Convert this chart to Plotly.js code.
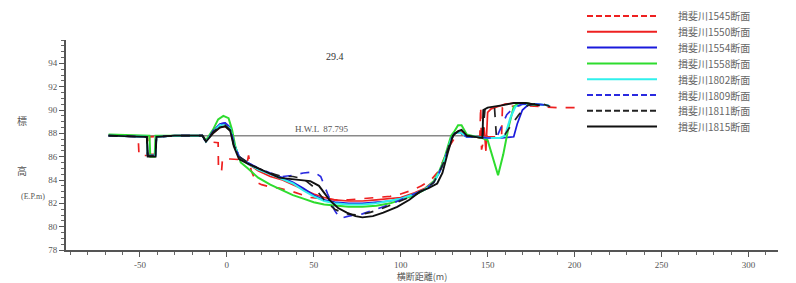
<!DOCTYPE html>
<html>
<head>
<meta charset="utf-8">
<script src="https://cdn.plot.ly/plotly-3.0.1.min.js"></script>
<style>html,body{margin:0;padding:0;background:#fff;}#chart{width:796px;height:283px;}</style>
</head>
<body>
<div id="chart"></div>
<script>
// ---- data ----
const seriesNames = ["揖斐川1545断面","揖斐川1550断面","揖斐川1554断面","揖斐川1558断面","揖斐川1802断面","揖斐川1809断面","揖斐川1811断面","揖斐川1815断面"];

const x1545 = [-68,-51,-50.5,-45,-44.5,-30,-14,-12,-5,-4.8,-3,-2.5,2,12,12.5,14,17,20,25,30,36,42,48,55,62,70,78,86,94,100,106,112,118,122,125,128,131,135,140,145.5,146,146.5,148,150,155,158,158.5,162,170,180,190,202];
const y1545 = [87.8,87.7,86.1,86.1,87.7,87.8,87.8,87.3,87.2,84.8,84.8,85.8,85.8,85.7,86.1,84.8,83.8,83.6,83.4,83.3,83.1,82.8,82.5,82.4,82.3,82.3,82.4,82.5,82.6,82.8,83.1,83.5,84.1,84.8,85.8,86.9,87.6,87.9,87.7,87.6,90.3,86.6,87.6,87.7,87.7,87.7,90.2,90.3,90.4,90.3,90.2,90.2];

const x1550 = [-68,-46,-45.5,-41,-40.5,-30,-14,-12,-8,-4,-1,2,4,7,12,18,25,32,38,44,50,56,62,70,78,86,94,100,108,114,119,122,125,127,129,131,134,138,143,147,148,149,150,152,156,160,165,172,180];
const y1550 = [87.8,87.7,86.2,86.2,87.7,87.8,87.8,87.4,88.0,88.5,88.6,88.3,87.0,86.0,85.4,84.8,84.3,84.0,83.6,83.2,82.8,82.5,82.3,82.2,82.2,82.3,82.4,82.5,82.9,83.3,83.9,84.6,85.6,86.5,87.4,88.0,88.2,87.8,87.7,87.6,88.5,86.5,89.8,90.1,90.3,90.5,90.6,90.6,90.4];

const x1554 = [-68,-46,-45.5,-41,-40.5,-30,-14,-12,-8,-4,-1,2,4,7,12,18,25,32,38,44,50,56,62,70,78,86,94,100,108,114,119,122,125,127,129,131,134,138,143,150,158,165,167,170,173,178,185];
const y1554 = [87.8,87.7,86.1,86.1,87.7,87.8,87.8,87.3,88.2,88.8,88.9,88.5,87.2,86.0,85.5,85.0,84.5,84.2,83.8,83.3,82.7,82.3,82.1,82.0,82.0,82.1,82.2,82.4,82.8,83.2,83.8,84.6,85.6,86.6,87.5,88.0,88.1,87.7,87.7,87.6,87.6,87.7,88.8,90.0,90.4,90.5,90.4];

const x1558 = [-68,-44.5,-44,-41.5,-41,-30,-14,-12,-8,-5,-2,1,3,5,8,12,18,25,32,38,44,50,56,62,70,78,86,94,100,108,114,119,122,125,127,129,131,133,135,138,143,147,150,153,156,159,162,165,168,172,178];
const y1558 = [87.9,87.8,86.0,86.0,87.8,87.8,87.8,87.4,88.3,89.2,89.5,89.3,88.3,86.8,85.5,85.0,84.2,83.6,83.1,82.7,82.4,82.1,81.9,81.8,81.7,81.7,81.8,82.0,82.3,82.7,83.2,83.9,84.7,85.8,86.8,87.8,88.2,88.7,88.7,87.9,87.7,87.6,87.4,86.0,84.4,86.2,88.5,90.3,90.6,90.6,90.4];

const x1802 = [-68,-46,-45.5,-41,-40.5,-30,-14,-12,-8,-4,-1,2,4,7,12,18,25,32,38,44,50,56,62,70,78,86,94,100,108,114,119,122,125,127,129,131,134,138,143,150,157,160,163,166,170,178,185];
const y1802 = [87.8,87.7,86.1,86.1,87.7,87.8,87.8,87.3,88.1,88.7,88.8,88.4,87.1,86.0,85.4,84.9,84.5,84.1,83.7,83.1,82.6,82.2,82.0,81.9,81.9,82.0,82.2,82.4,82.8,83.2,83.8,84.6,85.6,86.6,87.5,88.0,88.1,87.7,87.7,87.6,87.6,87.8,89.3,90.3,90.5,90.5,90.4];

const x1809 = [-68,-46,-45.5,-41,-40.5,-30,-14,-12,-8,-4,-1,2,4,7,12,18,25,32,38,44,50,54,58,62,65,70,78,86,94,100,108,114,119,122,125,127,129,131,134,138,143,150,155,158,161,165,170,178,185];
const y1809 = [87.8,87.7,86.1,86.1,87.7,87.8,87.8,87.2,88.2,88.8,88.9,88.5,87.2,86.0,85.5,85.0,84.6,84.3,84.4,84.6,84.7,84.3,82.8,81.4,80.7,80.9,81.1,81.5,81.9,82.3,82.8,83.2,83.8,84.6,85.6,86.6,87.5,88.0,88.1,87.7,87.7,87.6,87.6,88.6,89.6,90.2,90.5,90.5,90.4];

const x1811 = [-68,-46,-45.5,-41,-40.5,-30,-14,-12,-8,-4,-1,2,4,7,12,18,25,32,38,44,50,56,62,68,75,82,90,100,108,114,119,122,125,127,129,131,134,138,143,147,148.5,154,155,160,164,168,173,180,186];
const y1811 = [87.8,87.7,86.1,86.1,87.7,87.8,87.8,87.3,88.1,88.6,88.7,88.3,87.0,86.0,85.5,85.0,84.6,84.3,84.3,84.1,83.4,82.3,81.5,81.1,81.0,81.2,81.6,82.2,82.7,83.2,83.8,84.6,85.6,86.6,87.5,88.0,88.2,87.8,87.7,87.6,90.1,90.1,87.8,87.9,88.8,89.6,90.4,90.6,90.3];

const x1815 = [-68,-46,-45.5,-41,-40.5,-30,-14,-12,-8,-4,-1,2,4,7,12,18,25,30,36,42,48,53,59,64,69,74,78,84,90,98,105,111,116,121,124,127,130,133,135,138,143,147,147.5,150,158,165,172,180];
const y1815 = [87.8,87.7,86.0,86.0,87.7,87.8,87.8,87.3,88.0,88.5,88.6,88.2,86.9,85.8,85.4,85.0,84.6,84.2,84.1,84.0,83.9,83.5,82.3,81.6,81.2,80.9,80.8,80.9,81.2,81.7,82.3,83.0,83.3,83.7,84.6,86.3,87.8,88.2,88.3,87.8,87.7,87.6,90.0,90.2,90.4,90.6,90.6,90.4];

// high water level line
const hwlLabel = "H.W.L  87.795";
const hwlX = [-68, 150];
const hwlY = [87.795, 87.795];
const stationLabel = "29.4";
const stationX = [62];
const stationY = [94.6];

const xTicks = [-50, 0, 50, 100, 150, 200, 250, 300];
const yTicks = [78, 80, 82, 84, 86, 88, 90, 92, 94];
const xTitle = "横断距離(m)";
const yTitleChars = ["標", "高", "(E.P.m)"];

// ---- styling ----
const xs = [x1545, x1550, x1554, x1558, x1802, x1809, x1811, x1815];
const ys = [y1545, y1550, y1554, y1558, y1802, y1809, y1811, y1815];
const styles = [
  {color: "#ee2020", dash: "dash", width: 1.7},
  {color: "#ee2020", dash: "solid", width: 1.7},
  {color: "#1a1adc", dash: "solid", width: 1.7},
  {color: "#2edc2e", dash: "solid", width: 2},
  {color: "#30f0ec", dash: "solid", width: 2},
  {color: "#2a2ae0", dash: "dash", width: 1.7},
  {color: "#222222", dash: "dash", width: 1.7},
  {color: "#111111", dash: "solid", width: 1.9}
];

const traces = [{
  x: hwlX, y: hwlY, type: "scatter", mode: "lines",
  line: {color: "#8a8a8a", width: 1.5}, showlegend: false, hoverinfo: "skip"
}];
for (let i = 0; i < seriesNames.length; i++) {
  traces.push({
    x: xs[i], y: ys[i], type: "scatter", mode: "lines", name: seriesNames[i],
    line: {color: styles[i].color, dash: styles[i].dash, width: styles[i].width},
    showlegend: false
  });
}

const serif = "Liberation Serif, DejaVu Serif, serif";
const cjk = "Noto Sans CJK JP, sans-serif";

// legend drawn as paper-positioned samples + labels (px → paper)
const W = 796, H = 283, mL = 66, mR = 18, mT = 40, mB = 33;
const pw = W - mL - mR, ph = H - mT - mB;
const px2x = p => (p - mL) / pw;
const py2y = p => (H - mB - p) / ph;
const shapes = [];
const annotations = [];
for (let i = 0; i < seriesNames.length; i++) {
  const rowY = py2y(16 + 15.8 * i);
  shapes.push({type: "line", xref: "paper", yref: "paper",
    x0: px2x(587), x1: px2x(657), y0: rowY, y1: rowY,
    line: {color: styles[i].color, dash: styles[i].dash === "dash" ? "6px,3px" : "solid", width: 2}});
  annotations.push({xref: "paper", yref: "paper", x: px2x(676), y: rowY,
    xanchor: "left", yanchor: "middle", text: seriesNames[i], showarrow: false,
    font: {family: cjk, size: 10, color: "#666"}});
}
annotations.push(
  {x: stationX[0], y: stationY[0], xref: "x", yref: "y", text: stationLabel, showarrow: false,
   font: {family: serif, size: 10, color: "#333"}},
  {x: 55, y: hwlY[0], xref: "x", yref: "y", yanchor: "bottom", text: hwlLabel, showarrow: false,
   font: {family: serif, size: 9, color: "#555"}},
  {x: px2x(15), y: py2y(120), xref: "paper", yref: "paper", text: yTitleChars[0], showarrow: false,
   font: {family: cjk, size: 10, color: "#555"}},
  {x: px2x(15), y: py2y(170), xref: "paper", yref: "paper", text: yTitleChars[1], showarrow: false,
   font: {family: cjk, size: 10, color: "#555"}},
  {x: px2x(19), y: py2y(203), xref: "paper", yref: "paper", text: yTitleChars[2], showarrow: false,
   font: {family: serif, size: 8, color: "#555"}}
);

const layout = {
  width: W, height: H,
  margin: {l: mL, r: mR, t: mT, b: mB},
  paper_bgcolor: "#ffffff", plot_bgcolor: "#ffffff",
  showlegend: false,
  xaxis: {
    range: [-92.5, 317], tickvals: xTicks, ticktext: xTicks.map(String),
    showgrid: false, zeroline: false, showline: true, linecolor: "#555", linewidth: 2,
    ticks: "outside", ticklen: 5, tickwidth: 1, tickcolor: "#555",
    minor: {dtick: 10, tick0: 0, ticks: "outside", ticklen: 3, tickcolor: "#666", showgrid: false},
    tickfont: {family: serif, size: 9, color: "#555"},
    title: {text: xTitle, font: {family: cjk, size: 9, color: "#555"}, standoff: 2}
  },
  yaxis: {
    range: [78, 96], tickvals: yTicks, ticktext: yTicks.map(String),
    showgrid: false, zeroline: false, showline: true, linecolor: "#555", linewidth: 2,
    ticks: "outside", ticklen: 5, tickwidth: 1, tickcolor: "#555",
    minor: {dtick: 0.5, tick0: 78, ticks: "outside", ticklen: 3, tickcolor: "#666", showgrid: false},
    tickfont: {family: serif, size: 9, color: "#555"}
  },
  shapes: shapes,
  annotations: annotations
};

Plotly.newPlot("chart", traces, layout, {displayModeBar: false, staticPlot: true});
</script>
</body>
</html>
